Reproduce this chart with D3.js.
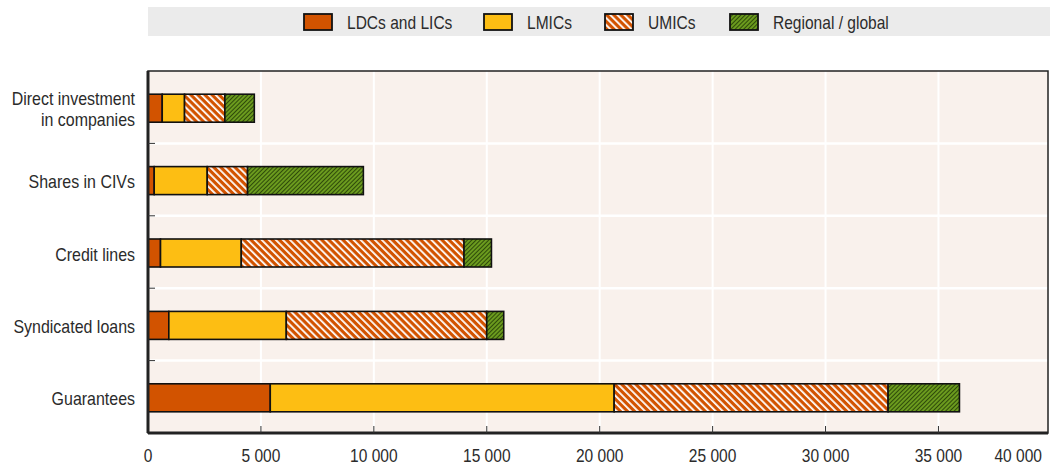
<!DOCTYPE html>
<html>
<head>
<meta charset="utf-8">
<script src="https://cdn.jsdelivr.net/npm/d3@7"></script>
<style>
  body { margin: 0; background: #fff; }
  text { font-family: "Liberation Sans", Arial, sans-serif; fill: #2b2b2b; }
</style>
</head>
<body>
<script>
// categories, top to bottom
var categories = ["Direct investment\nin companies", "Shares in CIVs",
    "Credit lines", "Syndicated loans", "Guarantees"];
var seriesNames = ["LDCs and LICs", "LMICs", "UMICs", "Regional / global"];

// values
var ldc      = [630, 275, 554, 922, 5414];
var lmic     = [988, 2348, 3576, 5201, 15226];
var umic     = [1786, 1786, 9863, 8875, 12130];
var regional = [1303, 5127, 1214, 753, 3159];

var xTicks = [0, 5000, 10000, 15000, 20000, 25000, 30000, 35000];
var xTickLabels = ["0", "5 000", "10 000", "15 000", "20 000", "25 000",
    "30 000", "35 000"];

var W = 1050, H = 466;
var margin = {left: 148, right: 2, top: 71, bottom: 33};
var width = W - margin.left - margin.right,
    height = H - margin.top - margin.bottom;

var svg = d3.select("body").append("svg")
    .attr("width", W).attr("height", H);

// narrow the text a bit, the original uses a condensed face
function narrow(sel) {
    sel.each(function() {
        var w = this.getComputedTextLength();
        d3.select(this).attr("textLength", w * 0.84)
            .attr("lengthAdjust", "spacingAndGlyphs");
    });
}

// patterns
var defs = svg.append("defs");
var pu = defs.append("pattern").attr("id", "umic")
    .attr("patternUnits", "userSpaceOnUse")
    .attr("width", 5).attr("height", 5)
    .attr("patternTransform", "rotate(-45)");
pu.append("rect").attr("width", 5).attr("height", 5).attr("fill", "#D25300");
pu.append("rect").attr("width", 1.8).attr("height", 5).attr("fill", "#fff");

var pr = defs.append("pattern").attr("id", "regional")
    .attr("patternUnits", "userSpaceOnUse")
    .attr("width", 3).attr("height", 3)
    .attr("patternTransform", "rotate(45)");
pr.append("rect").attr("width", 3).attr("height", 3).attr("fill", "#6B9B1E");
pr.append("rect").attr("width", 1).attr("height", 3).attr("fill", "#2F4A0A");

var fills = ["#D25300", "#FDBE13", "url(#umic)", "url(#regional)"];

// legend
svg.append("rect").attr("x", 148).attr("y", 7).attr("width", 902)
    .attr("height", 29).attr("fill", "#EBEBEB");
var legX = [304, 484, 605, 730];
seriesNames.forEach(function(name, i) {
    svg.append("rect").attr("x", legX[i]).attr("y", 14)
        .attr("width", 28).attr("height", 16)
        .attr("fill", fills[i]).attr("stroke", "#111").attr("stroke-width", 1.8);
    svg.append("text").attr("x", legX[i] + 43).attr("y", 28.5)
        .attr("font-size", 18.5).text(name).call(narrow);
});

var g = svg.append("g")
    .attr("transform", "translate(" + margin.left + "," + margin.top + ")");

var x = d3.scaleLinear().domain([0, 39850]).range([0, width]);
var y = d3.scaleBand().domain(categories).range([0, height]);

g.append("rect").attr("width", width).attr("height", height)
    .attr("fill", "#F9F1EC");

// grid
g.selectAll(".vgrid").data(xTicks.slice(1)).enter().append("line")
    .attr("x1", function(d) { return x(d); })
    .attr("x2", function(d) { return x(d); })
    .attr("y1", 0).attr("y2", height)
    .attr("stroke", "#fff").attr("stroke-width", 2);
g.selectAll(".hgrid").data(categories.slice(1)).enter().append("line")
    .attr("x1", 0).attr("x2", width)
    .attr("y1", function(d) { return y(d); })
    .attr("y2", function(d) { return y(d); })
    .attr("stroke", "#fff").attr("stroke-width", 2.5);

// stacked bars
var rows = categories.map(function(c, i) {
    return {cat: c, ldc: ldc[i], lmic: lmic[i], umic: umic[i], reg: regional[i]};
});
var stack = d3.stack().keys(["ldc", "lmic", "umic", "reg"])(rows);
var barH = 28;

g.selectAll(".layer").data(stack).enter().append("g")
    .attr("fill", function(d, i) { return fills[i]; })
    .selectAll("rect").data(function(d) { return d; }).enter().append("rect")
    .attr("x", function(d) { return x(d[0]); })
    .attr("width", function(d) { return x(d[1]) - x(d[0]); })
    .attr("y", function(d) { return y(d.data.cat) + y.bandwidth() / 2 - barH / 2 + 1; })
    .attr("height", barH)
    .attr("stroke", "#111").attr("stroke-width", 1.6);

// frame
g.append("rect").attr("width", width).attr("height", height)
    .attr("fill", "none").attr("stroke", "#222").attr("stroke-width", 1.5);
g.append("line").attr("x1", 0).attr("x2", 0).attr("y1", 0).attr("y2", height)
    .attr("stroke", "#222").attr("stroke-width", 3);
g.append("line").attr("x1", 0).attr("x2", width).attr("y1", height)
    .attr("y2", height).attr("stroke", "#222").attr("stroke-width", 3);

// left tick marks between bands
g.selectAll(".ytick").data(categories.slice(1)).enter().append("line")
    .attr("x1", 0).attr("x2", 7)
    .attr("y1", function(d) { return y(d); })
    .attr("y2", function(d) { return y(d); })
    .attr("stroke", "#333").attr("stroke-width", 1);

// bottom ticks
g.selectAll(".xtick").data(xTicks.slice(1)).enter().append("line")
    .attr("x1", function(d) { return x(d); })
    .attr("x2", function(d) { return x(d); })
    .attr("y1", height).attr("y2", height - 7)
    .attr("stroke", "#333").attr("stroke-width", 1);

g.selectAll(".xlab").data(xTicks).enter().append("text")
    .attr("x", function(d) { return x(d); })
    .attr("y", height + 29)
    .attr("text-anchor", "middle").attr("font-size", 18.5)
    .text(function(d, i) { return xTickLabels[i]; })
    .call(narrow);
g.append("text").attr("x", width - 6).attr("y", height + 29)
    .attr("text-anchor", "end").attr("font-size", 18.5).text("40 000")
    .call(narrow);

// category labels
categories.forEach(function(c) {
    var lines = c.split("\n");
    var cy = y(c) + y.bandwidth() / 2;
    lines.forEach(function(l, j) {
        g.append("text").attr("x", -13)
            .attr("y", cy + 8.5 + (j - (lines.length - 1) / 2) * 21)
            .attr("text-anchor", "end").attr("font-size", 19).text(l)
            .call(narrow);
    });
});
</script>
</body>
</html>
